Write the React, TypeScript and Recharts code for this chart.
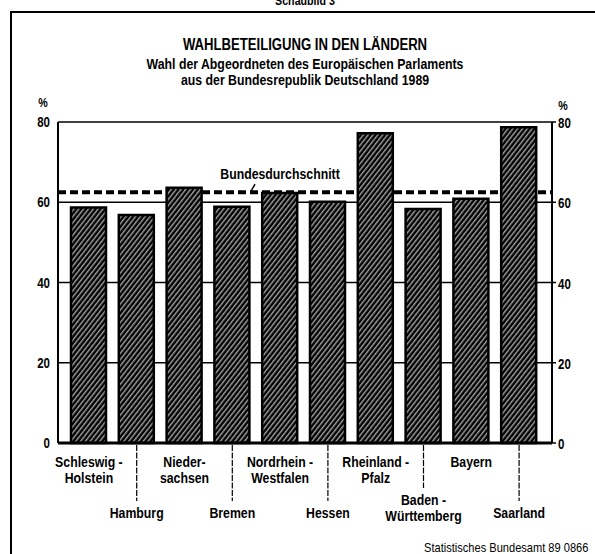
import React from 'react';
import { BarChart, Bar, XAxis, YAxis, CartesianGrid, ReferenceLine } from 'recharts';

// Wahlbeteiligung Europawahl 1989 nach Ländern (%)
const laender = [
  'Schleswig-Holstein', 'Hamburg', 'Niedersachsen', 'Bremen', 'Nordrhein-Westfalen',
  'Hessen', 'Rheinland-Pfalz', 'Baden-Württemberg', 'Bayern', 'Saarland',
];
const beteiligung = [58.7, 56.8, 63.6, 58.9, 62.3, 60.1, 77.2, 58.3, 60.9, 78.7];
const tickZeilen = [
  ['Schleswig -', 'Holstein'], ['Hamburg'], ['Nieder-', 'sachsen'], ['Bremen'],
  ['Nordrhein -', 'Westfalen'], ['Hessen'], ['Rheinland -', 'Pfalz'],
  ['Baden -', 'Württemberg'], ['Bayern'], ['Saarland'],
];
const bundesdurchschnitt = 62.5;
const yTicks = [0, 20, 40, 60, 80];

const data = laender.map((land, i) => ({ land, wert: beteiligung[i] }));

const FONT = '"Liberation Sans", Arial, Helvetica, sans-serif';
const SCHMAL = 0.82; // schmale Schrift nachbilden

function SText(props: any) {
  const { x, y, anchor = 'middle', size = 15, weight = 'bold', children } = props;
  return (
    <text transform={`translate(${x},${y}) scale(${SCHMAL},1)`} textAnchor={anchor}
      fontFamily={FONT} fontWeight={weight} fontSize={size} fill="#000">{children}</text>
  );
}

function LandTick(props: any) {
  const { x, y, index } = props;
  const zeilen: string[] = tickZeilen[index] || [];
  const unten = index % 2 === 1;
  const first = unten ? (zeilen.length > 1 ? 57 : 70) : 19;
  return (
    <g>
      {unten && (
        <line x1={x} x2={x} y1={y + 2} y2={y + first - 12} stroke="#000" strokeWidth={1.2} strokeDasharray="6 1.5" />
      )}
      {zeilen.map((z, k) => (
        <SText key={k} x={x} y={y + first + 5 + k * 15.5}>{z}</SText>
      ))}
    </g>
  );
}

// linke und rechte Prozentskala
function ProzentTick(props: any) {
  const { x, y, payload } = props;
  return (
    <g>
      <SText x={x} y={y + 5} anchor="end" size={14}>{payload.value}</SText>
      <line x1={x + 502} x2={x + 506} y1={y} y2={y} stroke="#000" strokeWidth={1.5} />
      <SText x={x + 508} y={y + 6} anchor="start" size={14}>{payload.value}</SText>
    </g>
  );
}

function DurchschnittLabel(props: any) {
  const vb = props.viewBox || { x: 0, y: 0 };
  return (
    <g>
      <SText x={vb.x + 222} y={vb.y - 13}>Bundesdurchschnitt</SText>
      <line x1={vb.x + 197} y1={vb.y - 8} x2={vb.x + 193} y2={vb.y - 1} stroke="#000" strokeWidth={1.5} />
    </g>
  );
}

const textStyle: React.CSSProperties = {
  position: 'absolute', left: 0, width: 610, textAlign: 'center', fontFamily: FONT,
  fontWeight: 'bold', color: '#000', whiteSpace: 'nowrap', lineHeight: 1,
  transform: `scaleX(${SCHMAL})`, transformOrigin: 'center',
};

export default function App() {
  return (
    <div style={{ position: 'absolute', left: 0, top: 0, width: 595, height: 554, background: '#fff', overflow: 'hidden' }}>
      <div style={{ ...textStyle, top: -6, fontSize: 13 }}>Schaubild 3</div>
      <div style={{ position: 'absolute', left: 10, top: 11, width: 600, height: 560, borderLeft: '2px solid #000', borderTop: '2px solid #000' }} />
      <div style={{ ...textStyle, top: 37, fontSize: 16 }}>WAHLBETEILIGUNG IN DEN LÄNDERN</div>
      <div style={{ ...textStyle, top: 56, fontSize: 15 }}>Wahl der Abgeordneten des Europäischen Parlaments</div>
      <div style={{ ...textStyle, top: 72, fontSize: 15 }}>aus der Bundesrepublik Deutschland 1989</div>
      <div style={{ ...textStyle, left: 36, width: 14, top: 96, fontSize: 13 }}>%</div>
      <div style={{ ...textStyle, left: 556, width: 14, top: 99, fontSize: 13 }}>%</div>
      <div style={{ ...textStyle, left: 'auto', right: 7, width: 'auto', top: 541, fontSize: 13.5, fontWeight: 'normal', transformOrigin: 'right' }}>
        Statistisches Bundesamt 89 0866
      </div>
      <div style={{ position: 'absolute', left: 0, top: 0 }}>
        <BarChart width={595} height={554} data={data} margin={{ top: 122, right: 0, bottom: 0, left: 0 }} barSize={35}>
          <defs>
            <pattern id="schraffur" patternUnits="userSpaceOnUse" width={3.8} height={3.8} patternTransform="rotate(38)">
              <rect width={3.8} height={3.8} fill="#000" />
              <line x1={0.8} y1={0} x2={0.8} y2={3.8} stroke="#fff" strokeWidth={0.9} />
            </pattern>
          </defs>
          <CartesianGrid vertical={false} stroke="#000" strokeWidth={1.6} strokeOpacity={1} />
          <XAxis dataKey="land" interval={0} height={111} padding={{ left: 7, right: 9 }}
            axisLine={{ stroke: '#000', strokeWidth: 3 }} tickLine={false} tickSize={0} tickMargin={0}
            tick={<LandTick />} />
          <YAxis domain={[0, 80]} ticks={yTicks} width={58} axisLine={{ stroke: '#000', strokeWidth: 2 }}
            tickLine={false} tickSize={0} tickMargin={8} interval={0} tick={<ProzentTick />} />
          <YAxis yAxisId="r" orientation="right" domain={[0, 80]} ticks={yTicks} width={43}
            axisLine={{ stroke: '#000', strokeWidth: 2 }} tickLine={false} tick={false} />
          <ReferenceLine y={bundesdurchschnitt} stroke="#000" strokeWidth={4} strokeDasharray="8 4"
            zIndex={100} label={<DurchschnittLabel />} />
          <Bar dataKey="wert" fill="url(#schraffur)" stroke="#000" strokeWidth={2.5} isAnimationActive={false} />
        </BarChart>
      </div>
    </div>
  );
}
